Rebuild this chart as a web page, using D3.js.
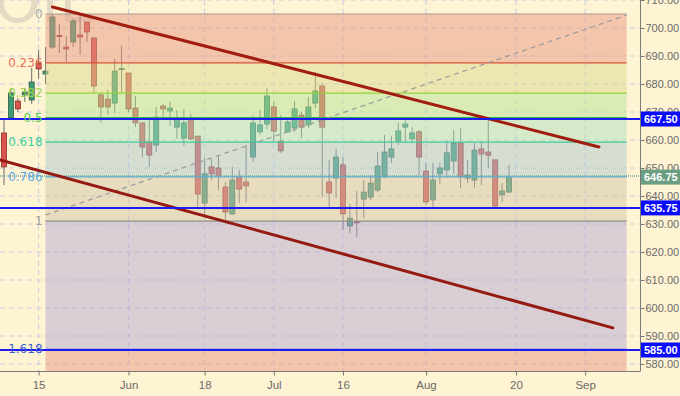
<!DOCTYPE html>
<html>
<head>
<meta charset="utf-8">
<script src="https://cdn.jsdelivr.net/npm/d3@7"></script>
<style>
	html, body { margin: 0; padding: 0; background: #fef3d2; }
	svg { display: block; font-family: 'DejaVu Sans', Verdana, sans-serif; }
</style>
</head>
<body>
<div id="chart"></div>
<script>
// daily candles, one per weekday starting 2018-05-08
const firstDay = '2018-05-08';
const opens = [
	662.5, 667.9, 673.9, 676.1, 674.3, 687.5, 683.6, 693.2, 697.3, 693.2,
	695.0, 697.5, 702.1, 696.4, 676.1, 674.6, 673.2, 685.4, 683.9, 671.4,
	666.1, 659.3, 658.2, 672.1, 670.4, 664.6, 660.7, 667.5, 661.4, 637.5,
	650.4, 650.0, 643.2, 633.6, 646.8, 645.0, 653.9, 662.9, 665.7, 671.8,
	659.6, 662.9, 664.3, 668.9, 665.4, 673.2, 679.3, 645.0, 646.4, 651.1,
	629.3, 630.8, 638.9, 639.6, 642.1, 646.8, 653.9, 659.6, 664.6, 660.4,
	662.9, 648.9, 638.6, 647.9, 649.3, 652.5, 658.9, 646.4, 645.7, 656.8,
	655.7, 652.9, 640.4, 641.4
];
const highs = [
	667.1, 678.6, 675.0, 678.6, 685.7, 692.1, 693.2, 705.0, 701.4, 697.1,
	703.2, 705.0, 702.1, 696.8, 676.8, 677.9, 688.9, 693.6, 683.9, 675.7,
	666.1, 667.1, 671.8, 672.9, 673.6, 670.7, 671.1, 669.3, 661.4, 653.6,
	653.2, 654.3, 645.0, 650.4, 649.3, 658.2, 668.6, 670.7, 678.6, 673.6,
	668.9, 667.1, 673.9, 670.0, 675.4, 684.3, 680.4, 652.9, 656.8, 653.9,
	637.1, 641.8, 645.7, 647.5, 655.7, 661.8, 661.4, 666.1, 667.1, 664.6,
	663.6, 651.8, 651.8, 651.8, 660.0, 663.6, 664.3, 652.9, 658.9, 659.3,
	667.1, 652.9, 644.6, 651.1
];
const lows = [
	643.9, 667.5, 670.0, 673.6, 672.9, 681.8, 680.0, 692.5, 691.1, 687.9,
	693.2, 690.4, 695.0, 676.8, 666.1, 668.9, 669.6, 677.1, 670.0, 664.6,
	653.9, 650.4, 655.7, 667.9, 665.0, 660.4, 657.9, 660.0, 635.7, 633.2,
	645.7, 642.1, 630.7, 633.2, 637.5, 637.9, 652.1, 661.8, 663.9, 659.3,
	655.4, 662.5, 662.9, 660.7, 664.3, 671.4, 639.6, 636.1, 639.3, 627.9,
	626.8, 625.4, 632.1, 638.6, 641.4, 646.4, 651.8, 658.2, 658.9, 658.9,
	647.5, 636.8, 636.1, 644.3, 646.4, 647.9, 642.9, 644.6, 642.9, 643.9,
	650.0, 636.1, 637.9, 641.1
];
const closes = [
	650.4, 676.8, 671.1, 677.1, 680.7, 685.4, 684.6, 703.9, 697.0, 692.5,
	702.5, 696.8, 698.6, 679.3, 671.8, 671.8, 684.6, 685.5, 671.1, 666.1,
	657.5, 654.6, 668.2, 671.1, 671.4, 667.5, 666.1, 660.4, 640.7, 647.9,
	647.9, 647.1, 634.3, 645.7, 642.5, 643.6, 666.1, 665.4, 675.7, 663.2,
	656.1, 666.4, 671.1, 664.6, 671.8, 677.5, 664.6, 641.1, 653.9, 633.6,
	632.1, 630.6, 641.4, 644.6, 650.7, 655.7, 656.8, 663.2, 665.7, 662.5,
	653.9, 637.9, 645.7, 650.0, 655.4, 658.9, 646.8, 647.5, 656.4, 655.0,
	654.6, 636.4, 641.8, 646.75
];

// x axis ticks
const tickDates = ['2018-05-15', '2018-06-01', '2018-06-18', '2018-07-02', '2018-07-16', '2018-08-01', '2018-08-20', '2018-09-03'];
const tickLabels = ['15', 'Jun', '18', 'Jul', '16', 'Aug', '20', 'Sep'];
const priceTicks = [580, 590, 600, 610, 620, 630, 640, 650, 660, 670, 680, 690, 700, 710];

// fibonacci retracement
const fibTop = 705;
const fibBottom = 631;
const fibStartDate = '2018-05-16';
const fibEndDate = '2018-09-11';
const fibLevels = [0, 0.236, 0.382, 0.5, 0.618, 0.786, 1, 1.618];
const fibLabels = ['0', '0.236', '0.382', '0.5', '0.618', '0.786', '1', '1.618'];
const fibLineColors = ['#a49c92', '#d8513a', '#8fd43a', '#2fb34a', '#3cc99a', '#58b0e0', '#8e8e8e', '#3a55d8'];
const fibTextColors = ['#a8a8a8', '#e8705a', '#9ed64c', '#4fd050', '#3fd0a0', '#58a8e0', '#a0a0a0', '#4060d0'];
const fibZoneColors = ['#e79984', '#d9db90', '#b5e398', '#ade1c0', '#adc9d0', '#d1c5ac', '#b1a9d4', '#e79984'];
const fibDiagonal = [{ date: '2018-05-16', price: 633.2 }, { date: '2018-09-11', price: 704.6 }];

// trend channel
const upperTrend = [{ date: '2018-05-17', price: 707.5 }, { date: '2018-09-05', price: 657.5 }];
const lowerTrend = [{ date: '2018-05-08', offset: -0.58, price: 652.9 }, { date: '2018-09-07', price: 592.9 }];

// horizontal levels
const levels = [667.5, 635.75, 585.0];
const lastPrice = 646.75;

const parse = d3.timeParse('%Y-%m-%d');
const fmt = d3.timeFormat('%Y-%m-%d');
const days = d3.timeDay
	.range(parse(firstDay), parse('2018-09-20'))
	.filter((d) => d.getDay() !== 0 && d.getDay() !== 6)
	.map(fmt);
const dayIndex = (s) => days.indexOf(s);

const candles = opens.map((o, i) => ({
	idx: i,
	open: o,
	high: highs[i],
	low: lows[i],
	close: closes[i]
}));

const width = 680;
const height = 396;
const plotRight = 640;
const plotBottom = 371;
const axisFont = "'Liberation Sans', Arial, sans-serif";

const xScale = d3.scaleLinear().domain([ -0.58, 91.93 ]).range([ 0, plotRight ]);
const yScale = d3.scaleLinear().domain([ 577.5, 710 ]).range([ plotBottom, 0 ]);

const svg = d3.select('#chart').append('svg').attr('width', width).attr('height', height);

svg.append('defs').append('clipPath').attr('id', 'plotClip')
	.append('rect').attr('width', plotRight).attr('height', plotBottom);

// watermark
svg.append('text')
	.attr('x', -6)
	.attr('y', 22)
	.style('font-size', '60px')
	.style('fill', '#e4dac4')
	.text('OIL');

const plot = svg.append('g').attr('clip-path', 'url(#plotClip)');

// grid
plot.selectAll('.hgrid')
	.data(priceTicks)
	.enter()
	.append('line')
	.attr('x1', 0)
	.attr('x2', plotRight)
	.attr('y1', (d) => yScale(d))
	.attr('y2', (d) => yScale(d))
	.style('stroke', '#c6cde0')
	.style('stroke-dasharray', '5, 4');

plot.selectAll('.vgrid')
	.data(tickDates)
	.enter()
	.append('line')
	.attr('x1', (d) => xScale(dayIndex(d)))
	.attr('x2', (d) => xScale(dayIndex(d)))
	.attr('y1', 0)
	.attr('y2', plotBottom)
	.style('stroke', '#c6cde0')
	.style('stroke-dasharray', '5, 4');

// candles
const bodyW = 5;
const candleG = plot.selectAll('.candle').data(candles).enter().append('g');

candleG.append('line')
	.attr('x1', (d) => xScale(d.idx))
	.attr('x2', (d) => xScale(d.idx))
	.attr('y1', (d) => yScale(d.high))
	.attr('y2', (d) => yScale(d.low))
	.style('stroke', '#6b6b6b')
	.style('stroke-width', 1);

candleG.append('rect')
	.attr('x', (d) => xScale(d.idx) - bodyW / 2)
	.attr('y', (d) => yScale(Math.max(d.open, d.close)))
	.attr('width', bodyW)
	.attr('height', (d) => Math.max(1, Math.abs(yScale(d.open) - yScale(d.close))))
	.style('fill', (d) => (d.close >= d.open ? '#3f9b74' : '#d9534f'))
	.style('stroke', (d) => (d.close >= d.open ? '#2b5e47' : '#8a2b27'))
	.style('stroke-width', 0.8);

// fibonacci zones (translucent, drawn over candles)
const fx0 = xScale(dayIndex(fibStartDate));
const fx1 = xScale(dayIndex(fibEndDate));
const fibPrice = (lvl) => fibTop - lvl * (fibTop - fibBottom);
const zoneEdges = fibLevels.map(fibPrice).concat([ 577.5 ]);

plot.selectAll('.zone')
	.data(fibZoneColors)
	.enter()
	.append('rect')
	.attr('x', fx0)
	.attr('width', fx1 - fx0)
	.attr('y', (d, i) => yScale(zoneEdges[i]))
	.attr('height', (d, i) => yScale(zoneEdges[i + 1]) - yScale(zoneEdges[i]))
	.style('fill', (d) => d)
	.style('opacity', 0.5);

plot.selectAll('.fibline')
	.data(fibLevels)
	.enter()
	.append('line')
	.attr('x1', fx0)
	.attr('x2', fx1)
	.attr('y1', (d) => yScale(fibPrice(d)))
	.attr('y2', (d) => yScale(fibPrice(d)))
	.style('stroke', (d, i) => fibLineColors[i])
	.style('stroke-width', 1.2);

// fib diagonal
plot.append('line')
	.attr('x1', xScale(dayIndex(fibDiagonal[0].date)))
	.attr('y1', yScale(fibDiagonal[0].price))
	.attr('x2', xScale(dayIndex(fibDiagonal[1].date)))
	.attr('y2', yScale(fibDiagonal[1].price))
	.style('stroke', '#9a9a9a')
	.style('stroke-width', 1.2)
	.style('stroke-dasharray', '5, 4');

// current price dotted line
plot.append('line')
	.attr('x1', 0)
	.attr('x2', plotRight)
	.attr('y1', yScale(lastPrice) - 1)
	.attr('y2', yScale(lastPrice) - 1)
	.style('stroke', '#6fa8a0')
	.style('stroke-width', 1.5)
	.style('stroke-dasharray', '1, 1');

// trend channel
plot.append('line')
	.attr('x1', xScale(dayIndex(upperTrend[0].date)))
	.attr('y1', yScale(upperTrend[0].price))
	.attr('x2', xScale(dayIndex(upperTrend[1].date)))
	.attr('y2', yScale(upperTrend[1].price))
	.style('stroke', '#a11d10')
	.style('stroke-width', 3)
	.style('stroke-linecap', 'round');

plot.append('line')
	.attr('x1', xScale(dayIndex(lowerTrend[0].date) + lowerTrend[0].offset))
	.attr('y1', yScale(lowerTrend[0].price))
	.attr('x2', xScale(dayIndex(lowerTrend[1].date)))
	.attr('y2', yScale(lowerTrend[1].price))
	.style('stroke', '#941a12')
	.style('stroke-width', 3)
	.style('stroke-linecap', 'round');

// horizontal blue levels
plot.selectAll('.level')
	.data(levels)
	.enter()
	.append('line')
	.attr('x1', 0)
	.attr('x2', plotRight)
	.attr('y1', (d) => yScale(d))
	.attr('y2', (d) => yScale(d))
	.style('stroke', '#1c1cf0')
	.style('stroke-width', 2);

// fib labels
svg.selectAll('.fiblabel')
	.data(fibLevels)
	.enter()
	.append('text')
	.attr('x', fx0 - 3)
	.attr('y', (d) => yScale(fibPrice(d)))
	.attr('dy', '0.35em')
	.attr('text-anchor', 'end')
	.style('font-size', '12px')
	.style('fill', (d, i) => fibTextColors[i])
	.text((d, i) => fibLabels[i]);

// axes
svg.append('line')
	.attr('x1', plotRight + 0.5)
	.attr('x2', plotRight + 0.5)
	.attr('y1', 0)
	.attr('y2', plotBottom)
	.style('stroke', '#7a7a7a');

svg.append('line')
	.attr('x1', 0)
	.attr('x2', plotRight + 0.5)
	.attr('y1', plotBottom + 0.5)
	.attr('y2', plotBottom + 0.5)
	.style('stroke', '#7a7a7a');

const yAxis = svg.append('g')
	.attr('transform', `translate(${plotRight + 0.5}, 0)`)
	.call(d3.axisRight(yScale).tickValues(priceTicks).tickSize(4).tickFormat(d3.format('.2f')));
yAxis.select('.domain').remove();
yAxis.selectAll('line').style('stroke', '#7a7a7a');
yAxis.selectAll('text')
	.attr('x', 5)
	.style('font-size', '11px')
	.style('font-family', axisFont)
	.style('fill', '#6a6a6a');

const xAxis = svg.append('g')
	.attr('transform', `translate(0, ${plotBottom + 0.5})`)
	.call(d3.axisBottom(xScale).tickValues(tickDates.map(dayIndex)).tickSize(4).tickFormat((d, i) => tickLabels[i]));
xAxis.select('.domain').remove();
xAxis.selectAll('line').style('stroke', '#7a7a7a');
xAxis.selectAll('text')
	.attr('y', 9)
	.style('font-size', '11.5px')
	.style('font-family', axisFont)
	.style('fill', '#6a6a6a');

// price tags on the right
const tags = levels.map((v) => ({ value: v, fill: '#0a0aff' })).concat([ { value: lastPrice, fill: '#6b9e82' } ]);
const tagG = svg.selectAll('.tag').data(tags).enter().append('g')
	.attr('transform', (d) => `translate(${plotRight + 1}, ${yScale(d.value)})`);

tagG.append('rect')
	.attr('x', 0)
	.attr('y', -7.5)
	.attr('width', 40)
	.attr('height', 15)
	.style('fill', (d) => d.fill);

tagG.append('text')
	.attr('x', 3)
	.attr('dy', '0.36em')
	.style('font-size', '11px')
	.style('font-family', axisFont)
	.style('font-weight', 'bold')
	.style('fill', '#ffffff')
	.text((d) => d3.format('.2f')(d.value));
</script>
</body>
</html>
